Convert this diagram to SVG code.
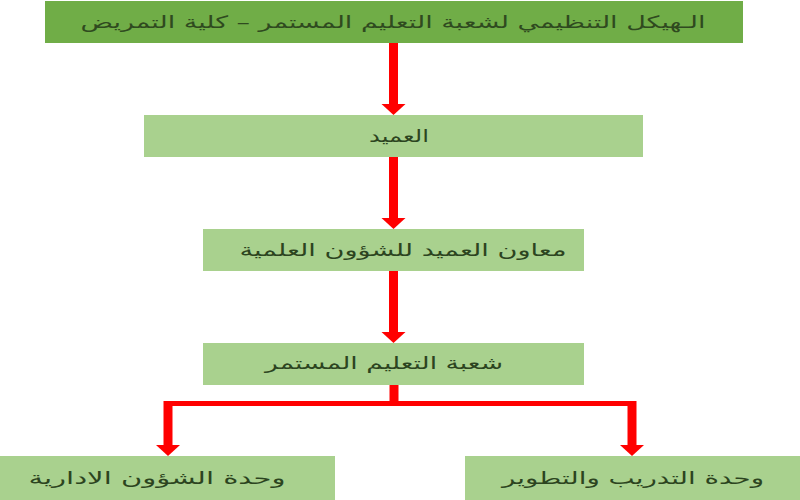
<svg xmlns="http://www.w3.org/2000/svg" width="800" height="500" viewBox="0 0 800 500">
  <defs>
    <style>
      .top { fill: #70ad47; }
      .box { fill: #a9d18e; }
      .lbl { font-family: "DejaVu Sans", "Noto Sans", sans-serif; font-size: 17px; fill: #2c4420; text-anchor: middle; direction: rtl; }
      .title { fill: #2f4a1f; }
      .wire { stroke: #ff0000; fill: none; }
      .head { fill: #ff0000; }
    </style>
  </defs>
  <rect width="800" height="500" fill="#ffffff"/>

  <g id="connectors">
    <line class="wire" x1="393.5" y1="43" x2="393.5" y2="105" stroke-width="9"/>
    <polygon class="head" points="381.5,104 405.5,104 393.5,115"/>
    <line class="wire" x1="393.5" y1="157" x2="393.5" y2="219" stroke-width="9"/>
    <polygon class="head" points="381.5,218 405.5,218 393.5,229"/>
    <line class="wire" x1="393.5" y1="271" x2="393.5" y2="333" stroke-width="9"/>
    <polygon class="head" points="381.5,332 405.5,332 393.5,343"/>
    <line class="wire" x1="394" y1="385" x2="394" y2="404" stroke-width="9"/>
    <polyline class="wire" points="168,446 168,403.5 632,403.5 632,446" stroke-width="5"/>
    <line class="wire" x1="168" y1="401" x2="168" y2="446" stroke-width="9"/>
    <line class="wire" x1="632" y1="401" x2="632" y2="446" stroke-width="9"/>
    <polygon class="head" points="156,445 180,445 168,456"/>
    <polygon class="head" points="620,445 644,445 632,456"/>
  </g>

  <g id="node-title">
    <rect class="top" x="45" y="1" width="698" height="42"/>
    <text class="lbl title" x="393" y="28" textLength="625" lengthAdjust="spacingAndGlyphs">الـهيكل التنظيمي لشعبة التعليم المستمر – كلية التمريض</text>
  </g>
  <g id="node-dean">
    <rect class="box" x="144" y="115" width="499" height="42"/>
    <text class="lbl" x="399" y="142" textLength="60" lengthAdjust="spacingAndGlyphs">العميد</text>
  </g>
  <g id="node-vice-dean">
    <rect class="box" x="203" y="229" width="381" height="42"/>
    <text class="lbl" x="403" y="256" textLength="327" lengthAdjust="spacingAndGlyphs">معاون العميد للشؤون العلمية</text>
  </g>
  <g id="node-ce-division">
    <rect class="box" x="203" y="343" width="381" height="42"/>
    <text class="lbl" x="384" y="369" textLength="238" lengthAdjust="spacingAndGlyphs">شعبة التعليم المستمر</text>
  </g>
  <g id="node-admin-unit">
    <rect class="box" x="0" y="456" width="335" height="44"/>
    <text class="lbl" x="157" y="484" textLength="257" lengthAdjust="spacingAndGlyphs">وحدة الشؤون الادارية</text>
  </g>
  <g id="node-training-unit">
    <rect class="box" x="465" y="456" width="335" height="44"/>
    <text class="lbl" x="633" y="484" textLength="262" lengthAdjust="spacingAndGlyphs">وحدة التدريب والتطوير</text>
  </g>
</svg>
